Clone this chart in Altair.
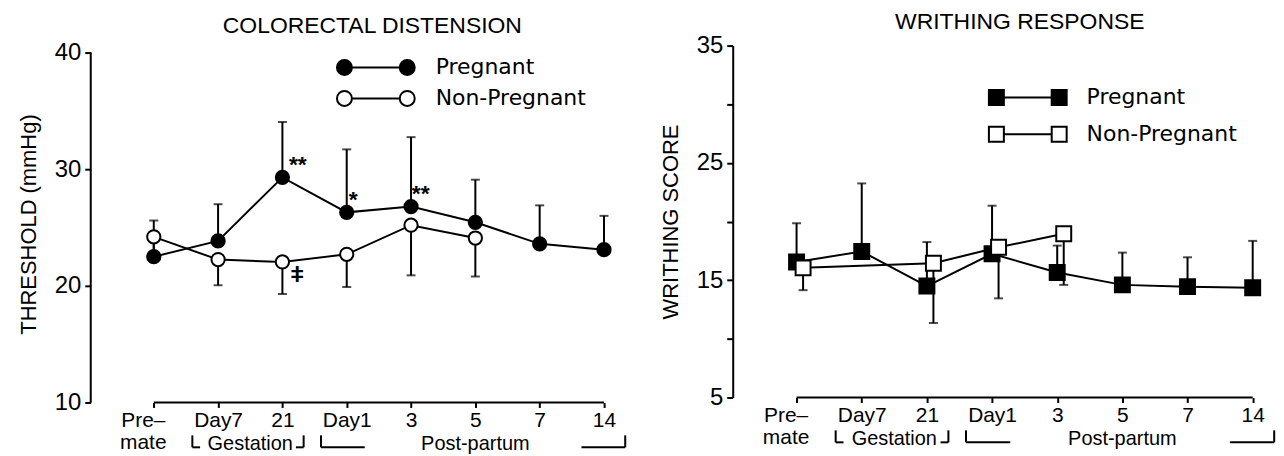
import json
import altair as alt
import pandas as pd

# ---------------- data ----------------
tick_labels = [["Pre–", "mate"], ["Day7"], ["21"], ["Day1"], ["3"], ["5"], ["7"], ["14"]]
series_names = ["Pregnant", "Non-Pregnant"]

# Colorectal distension threshold (mmHg)
cd_preg = [22.5, 23.85, 29.3, 26.3, 26.8, 25.45, 23.6, 23.1]
cd_preg_err = [3.1, 3.15, 4.75, 5.4, 5.95, 3.65, 3.3, 2.9]
cd_np = [24.2, 22.25, 22.05, 22.7, 25.2, 24.1, None, None]
cd_np_err = [2.15, 2.2, 2.75, 2.8, 4.3, 3.3, None, None]

# Writhing score
wr_preg = [16.55, 17.45, 14.5, 17.25, 15.65, 14.6, 14.45, 14.35]
wr_preg_err = [3.3, 5.8, 3.75, 4.1, 2.3, 2.75, 2.5, 4.0]
wr_np = [16.05, None, 16.45, 17.8, 18.95, None, None, None]
wr_np_err = [1.9, None, 5.1, 4.35, 4.35, None, None, None]

# significance marks (colorectal panel)
cd_marks = ["**", "*", "**", "ǂ"]
cd_marks_t = [2.24, 3.1, 4.15, 2.23]
cd_marks_v = [30.4, 27.4, 27.85, 20.95]

periods = ["Gestation", "Post-partum"]
period_start = [1, 3]
period_end = [2, 7]

cd_yticks = [10, 20, 30, 40]
wr_yticks = [5, 10, 15, 20, 25, 30, 35]

# ---------------- style ----------------
FONT = "Liberation Sans"
LFONT = "DejaVu Sans"
ARM = {"Gestation": 0.12, "Post-partum": 0.68}


def long_df(preg, preg_err, np_, np_err, np_shift=0.0):
    rows = []
    for i, (m, e) in enumerate(zip(preg, preg_err)):
        rows.append(dict(t=i, series="Pregnant", mean=m, lo=m, hi=m + e, cap=m + e))
    for i, (m, e) in enumerate(zip(np_, np_err)):
        if m is None:
            continue
        rows.append(dict(t=i + np_shift, series="Non-Pregnant", mean=m, lo=m - e, hi=m, cap=m - e))
    return pd.DataFrame(rows)


def circle_path(cx, r=1.0):
    k = 0.5523 * r
    return (f"M{cx + r},0 C{cx + r},{k} {cx + k},{r} {cx},{r} C{cx - k},{r} {cx - r},{k} {cx - r},0 "
            f"C{cx - r},{-k} {cx - k},{-r} {cx},{-r} C{cx + k},{-r} {cx + r},{-k} {cx + r},0 Z ")


def square_path(cx, r=1.0):
    return f"M{cx - r},{-r} L{cx + r},{-r} L{cx + r},{r} L{cx - r},{r} Z "


def legend_symbol(kind, g=4.2):
    f = circle_path if kind == "circle" else square_path
    return f(-g) + f"M{-g + 1},0 L{g - 1},0 " + f(g)


def panel(df, xdom, ydom, yvals, ylabel_expr, ytitle, title, title_dx, title_off, shape, msize,
          lx, ly, rowpad, loff, width, height, manual_ydomain, ann=None):
    xs = alt.Scale(domain=xdom, nice=False, zero=False)
    ys = alt.Scale(domain=ydom, nice=False, zero=False)
    label_expr = json.dumps(tick_labels, ensure_ascii=False) + "[datum.value]"
    xaxis = alt.Axis(values=list(range(len(tick_labels))), labelExpr=label_expr, title=None,
                     domain=False, ticks=True, tickSize=5, tickWidth=2, tickColor="black",
                     labelFont=FONT, labelFontSize=21, labelColor="black", labelPadding=2,
                     labelLineHeight=22, grid=False, labelAngle=0,
                     labelOffset={"condition": {"test": "datum.value == 0", "value": -11},
                                  "value": 0})
    yaxis = alt.Axis(values=yvals, labelExpr=ylabel_expr, title=ytitle, titleFont=FONT,
                     titleFontSize=22, titleFontWeight="normal", titleColor="black",
                     titlePadding=14, domain=not manual_ydomain, domainColor="black",
                     domainWidth=2, ticks=True, tickSize=6, tickWidth=2, tickColor="black",
                     labelFont=FONT, labelFontSize=24, labelColor="black", labelPadding=4,
                     grid=False)

    def X(f):
        return alt.X(f, type="quantitative", scale=xs, axis=xaxis)

    def Y(f):
        return alt.Y(f, type="quantitative", scale=ys, axis=yaxis)

    base = alt.Chart(df)
    rules = base.mark_rule(strokeWidth=2, color="black").encode(x=X("t"), y=Y("lo"), y2="hi:Q")
    caps = base.mark_tick(orient="horizontal", size=9, thickness=2, color="black").encode(
        x=X("t"), y=Y("cap"))
    line = base.mark_line(strokeWidth=2, color="black").encode(
        x=X("t"), y=Y("mean"), detail="series:N")
    pts = base.mark_point(shape=shape, filled=True, size=msize, stroke="black",
                          strokeWidth=2, opacity=1).encode(
        x=X("t"), y=Y("mean"),
        fill=alt.Fill("series:N", scale=alt.Scale(domain=series_names, range=["black", "white"]),
                      legend=alt.Legend(title=None, orient="none", legendX=lx, legendY=ly,
                                        direction="vertical",
                                        symbolType=legend_symbol(shape), symbolSize=225,
                                        symbolStrokeColor="black", symbolStrokeWidth=2,
                                        symbolOpacity=1, labelFont=LFONT, labelFontSize=22,
                                        labelColor="black", labelOffset=loff, rowPadding=rowpad,
                                        padding=0)),
    )
    # x baseline (axis line between first and last tick)
    xline = alt.Chart(pd.DataFrame({"t": [0], "t2": [len(tick_labels) - 1],
                                    "v": [min(yvals)]})).mark_rule(
        strokeWidth=2, color="black").encode(x=X("t"), x2="t2:Q", y=Y("v"))
    # period brackets
    per = pd.DataFrame({"name": periods, "start": period_start, "end": period_end})
    per["mid"] = (per["start"] + per["end"]) / 2
    per["l"] = per["start"] - 0.4
    per["r"] = per["end"] + 0.33
    per["la"] = per["l"] + per["name"].map(ARM)
    per["ra"] = per["r"] - per["name"].map(ARM)
    pb = alt.Chart(per)
    vb1 = pb.mark_rule(strokeWidth=2, color="black").encode(
        x=X("l"), y=alt.value(height + 33), y2=alt.value(height + 45))
    vb2 = pb.mark_rule(strokeWidth=2, color="black").encode(
        x=X("r"), y=alt.value(height + 33), y2=alt.value(height + 45))
    hb1 = pb.mark_rule(strokeWidth=2, color="black").encode(
        x=X("l"), x2="la:Q", y=alt.value(height + 45))
    hb2 = pb.mark_rule(strokeWidth=2, color="black").encode(
        x=X("ra"), x2="r:Q", y=alt.value(height + 45))
    ptxt = pb.mark_text(font=FONT, fontSize=20, color="black", baseline="alphabetic").encode(
        x=X("mid"), y=alt.value(height + 48), text="name:N")
    layers = [rules, xline, caps, line, pts, vb1, vb2, hb1, hb2, ptxt]
    if manual_ydomain:
        ydl = alt.Chart(pd.DataFrame({"lo": [min(yvals)], "hi": [max(yvals)]})).mark_rule(
            strokeWidth=2, color="black").encode(x=alt.value(0), y=Y("lo"), y2="hi:Q")
        layers.append(ydl)
    if ann is not None:
        at = alt.Chart(ann).mark_text(font=FONT, fontSize=23, fontWeight="bold", color="black").encode(
            x=X("t"), y=Y("v"), text="label:N")
        layers.append(at)
    return alt.layer(*layers).properties(
        width=width, height=height,
        title=alt.TitleParams(title, font=FONT, fontSize=23, fontWeight="normal", color="black",
                              anchor="middle", dx=title_dx, offset=title_off),
    )


cd_df = long_df(cd_preg, cd_preg_err, cd_np, cd_np_err, 0.0)
wr_df = long_df(wr_preg, wr_preg_err, wr_np, wr_np_err, 0.1)
ann = pd.DataFrame({"label": cd_marks, "t": cd_marks_t, "v": cd_marks_v})

left = panel(cd_df, [-0.98, 7.25], [10, 40.6], cd_yticks, "datum.label", "THRESHOLD (mmHg)",
             "COLORECTAL DISTENSION", 17, 3, "circle", 177, 275, 11, 7, 49, 531, 358, True, ann)
right = panel(wr_df, [-0.98, 7.22], [5, 35], wr_yticks,
              "datum.value % 10 == 5 ? datum.label : ''", "WRITHING SCORE",
              "WRITHING RESPONSE", 20, 0, "square", 225, 285, 41, 13, 48, 536, 353, False)

chart = alt.hconcat(left, right, spacing=113, bounds="flush").resolve_scale(
    fill="independent").resolve_legend(fill="independent").properties(
    padding={"left": 9, "top": 2, "right": 0, "bottom": 0}
).configure(background="white").configure_view(strokeWidth=0)

chart.save("out.html", embed_options={"renderer": "svg", "actions": False})
